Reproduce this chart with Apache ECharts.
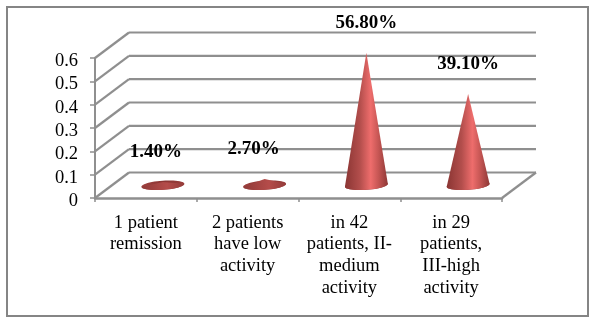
<!DOCTYPE html>
<html>
<head>
<meta charset="utf-8">
<style>html,body{margin:0;padding:0;background:#fff}#c{width:597px;height:327px}</style>
<script src="https://cdn.jsdelivr.net/npm/echarts@6/dist/echarts.min.js"></script>
</head>
<body>
<div id="c"></div>
<script>
const categories = ['1 patient\nremission', '2 patients\nhave low\nactivity', 'in 42\npatients, II-\nmedium\nactivity', 'in 29\npatients,\nIII-high\nactivity'];
const shares = [0.014, 0.027, 0.568, 0.391];
const yTicks = [0, 0.1, 0.2, 0.3, 0.4, 0.5, 0.6];

const FONT = '"Liberation Serif", serif';
const GRID_COLOR = '#8f8f8f';
const DEPTH_X = 34, DEPTH_Y = -25.5;
const CONE_RX = 21.5, CONE_RY = 4.6, CONE_TILT = -0.07;
const LABEL_DX = [-7, -11, 0, 0];
const LABEL_DY = -30;

function ellipsePoint(cx, cy, t) {
  const ex = CONE_RX * Math.cos(t), ey = CONE_RY * Math.sin(t);
  return [cx + ex * Math.cos(CONE_TILT) - ey * Math.sin(CONE_TILT),
          cy + ex * Math.sin(CONE_TILT) + ey * Math.cos(CONE_TILT)];
}
function hGrad(stops) {
  return new echarts.graphic.LinearGradient(0, 0, 1, 0, stops.map((c) => ({offset: c[0], color: c[1]})));
}
const bright = [[0, '#8a3533'], [0.35, '#b34e4c'], [0.6, '#ee6d6c'], [0.78, '#c65654'], [1, '#8e3836']];
const muted = [[0, '#8f3a38'], [0.6, '#b54c4a'], [1, '#933c3a']];
const dark = [[0, '#a04240'], [0.5, '#8a3432'], [1, '#9a3e3c']];

const option = {
  animation: false,
  backgroundColor: '#ffffff',
  graphic: [{
    type: 'rect', silent: true, z: 0,
    shape: {x: 7, y: 7, width: 581, height: 309},
    style: {fill: 'none', stroke: '#858585', lineWidth: 2}
  }],
  grid: {left: 95, right: 95, top: 58, bottom: 129, containLabel: false},
  xAxis: {
    type: 'category', data: categories, boundaryGap: true,
    axisLine: {show: true, lineStyle: {color: GRID_COLOR, width: 2.5}},
    axisTick: {show: true, length: 4, alignWithLabel: false, interval: 0, lineStyle: {color: GRID_COLOR, width: 1.5}},
    axisLabel: {interval: 0, color: '#000', fontFamily: FONT, fontSize: 18.5, lineHeight: 21.7, margin: 14, hideOverlap: false},
    splitLine: {show: false}
  },
  yAxis: {
    type: 'value', min: 0, max: 0.6, interval: 0.1,
    axisLine: {show: true, lineStyle: {color: GRID_COLOR, width: 2}},
    axisTick: {show: true, length: 5, lineStyle: {color: GRID_COLOR, width: 1.5}},
    axisLabel: {
      color: '#000', fontFamily: FONT, fontSize: 18.5, margin: 17,
      formatter: '{n|{value}}',
      rich: {n: {fontFamily: FONT, fontSize: 18.5, color: '#000', padding: [6, 0, 0, 0]}}
    },
    splitLine: {show: false}
  },
  series: [
    {
      type: 'custom', name: 'walls', coordinateSystem: 'cartesian2d', silent: true, clip: false, z: 1,
      data: yTicks.map(v => [0, v]),
      renderItem(params, api) {
        const cs = params.coordSys;
        const y = api.coord([0, api.value(1)])[1];
        const ls = {stroke: GRID_COLOR, lineWidth: 2.2, fill: 'none'};
        const x0 = cs.x, x1 = cs.x + cs.width;
        const kids = [
          {type: 'line', shape: {x1: x0, y1: y, x2: x0 + DEPTH_X, y2: y + DEPTH_Y}, style: ls},
          {type: 'line', shape: {x1: x0 + DEPTH_X, y1: y + DEPTH_Y, x2: x1 + DEPTH_X, y2: y + DEPTH_Y}, style: ls}
        ];
        if (api.value(1) === 0) {
          kids.push({type: 'line', shape: {x1: x1, y1: y, x2: x1 + DEPTH_X, y2: y + DEPTH_Y}, style: ls});
        }
        return {type: 'group', children: kids};
      }
    },
    {
      type: 'custom', name: 'share', coordinateSystem: 'cartesian2d', silent: true, clip: false, z: 3,
      data: shares.map((v, i) => [i, v]),
      renderItem(params, api) {
        const i = api.value(0), v = api.value(1);
        const base = api.coord([i, 0]), top = api.coord([i, v]);
        const cx = base[0] + DEPTH_X / 2, cy = base[1] + DEPTH_Y / 2;
        const ax = top[0] + DEPTH_X / 2, ay = top[1] + DEPTH_Y / 2;
        const full = [], lower = [[ax, ay]];
        for (let k = 0; k <= 48; k++) {
          const t = k / 48 * Math.PI * 2;
          full.push(ellipsePoint(cx, cy, t));
          if (k <= 24) lower.push(ellipsePoint(cx, cy, t));
        }
        return {type: 'group', children: [
          {type: 'polygon', shape: {points: full}, style: {fill: hGrad(dark), stroke: null}},
          {type: 'polygon', shape: {points: lower}, style: {fill: hGrad(v < 0.1 ? muted : bright), stroke: null}},
          {type: 'text', style: {
            x: ax + LABEL_DX[i], y: ay + LABEL_DY, text: (v * 100).toFixed(2) + '%',
            font: 'bold 19px ' + FONT, fill: '#000', textAlign: 'center', textVerticalAlign: 'middle'
          }}
        ]};
      }
    }
  ]
};
const chart = echarts.init(document.getElementById('c'), null, {renderer: 'canvas'});
chart.setOption(option);
</script>
</body>
</html>
